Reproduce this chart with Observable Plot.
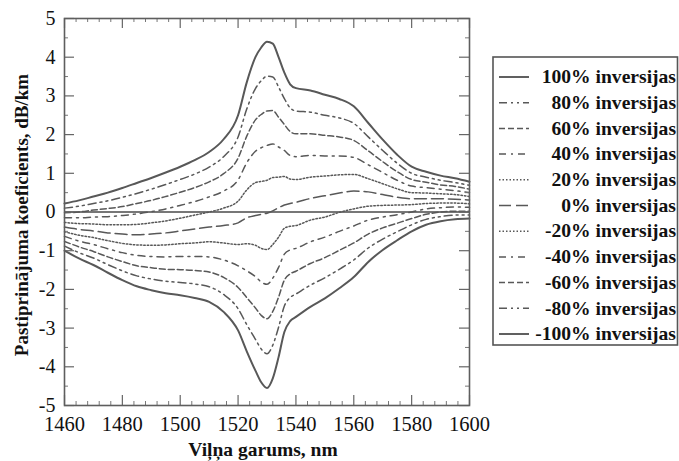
<!DOCTYPE html>
<html>
<head>
<meta charset="utf-8">
<script src="https://cdn.jsdelivr.net/npm/d3@7"></script>
<script src="https://cdn.jsdelivr.net/npm/@observablehq/plot@0.6"></script>
<style>
  html, body { margin: 0; padding: 0; background: #fff; }
  #chart svg { display: block; }
</style>
</head>
<body>
<div id="chart"></div>
<script>
const wavelength = [1460,1465,1470,1475,1480,1485,1490,1495,1500,1505,1510,1515,1520,1523,1526,1528,1530,1532,1534,1536,1538,1540,1545,1550,1555,1560,1565,1570,1575,1580,1585,1590,1595,1600];

const inv100  = [0.22,0.30,0.40,0.50,0.62,0.75,0.88,1.02,1.17,1.34,1.55,1.88,2.50,3.35,4.00,4.25,4.40,4.35,4.00,3.60,3.30,3.20,3.14,3.03,2.92,2.73,2.30,1.87,1.48,1.17,1.04,0.94,0.87,0.78];
const inv80   = [0.10,0.15,0.22,0.29,0.38,0.48,0.59,0.71,0.84,0.98,1.16,1.43,1.94,2.66,3.19,3.39,3.51,3.49,3.23,2.93,2.69,2.61,2.58,2.50,2.43,2.29,1.94,1.59,1.26,1.00,0.90,0.82,0.76,0.69];
const inv60   = [-0.02,0.00,0.05,0.09,0.14,0.22,0.30,0.40,0.51,0.63,0.78,0.99,1.39,1.96,2.38,2.52,2.61,2.62,2.45,2.26,2.08,2.02,2.02,1.98,1.94,1.85,1.58,1.30,1.04,0.84,0.77,0.70,0.66,0.59];
const inv40   = [-0.15,-0.15,-0.13,-0.12,-0.09,-0.05,0.01,0.08,0.17,0.27,0.39,0.54,0.83,1.27,1.57,1.66,1.72,1.76,1.68,1.59,1.46,1.43,1.46,1.45,1.45,1.41,1.22,1.02,0.82,0.67,0.63,0.59,0.55,0.50];
const inv20   = [-0.27,-0.30,-0.31,-0.33,-0.33,-0.32,-0.28,-0.23,-0.16,-0.08,0.00,0.10,0.28,0.57,0.76,0.79,0.82,0.89,0.90,0.92,0.85,0.84,0.90,0.93,0.96,0.97,0.86,0.73,0.60,0.50,0.49,0.47,0.45,0.40];
const inv0    = [-0.39,-0.45,-0.49,-0.54,-0.57,-0.59,-0.57,-0.54,-0.49,-0.44,-0.39,-0.35,-0.28,-0.15,-0.09,-0.06,-0.03,0.03,0.11,0.18,0.22,0.25,0.35,0.42,0.49,0.54,0.52,0.45,0.38,0.34,0.34,0.34,0.33,0.31];
const invM20  = [-0.51,-0.60,-0.66,-0.74,-0.81,-0.85,-0.86,-0.85,-0.82,-0.80,-0.77,-0.80,-0.84,-0.82,-0.86,-0.94,-0.97,-0.84,-0.65,-0.42,-0.37,-0.35,-0.21,-0.13,-0.01,0.08,0.15,0.17,0.18,0.19,0.22,0.23,0.23,0.21];
const invM40  = [-0.63,-0.75,-0.84,-0.95,-1.05,-1.12,-1.15,-1.16,-1.15,-1.15,-1.16,-1.24,-1.39,-1.52,-1.67,-1.81,-1.87,-1.71,-1.43,-1.09,-0.98,-0.94,-0.77,-0.65,-0.50,-0.36,-0.21,-0.13,-0.07,0.00,0.08,0.11,0.13,0.12];
const invM60  = [-0.76,-0.90,-1.02,-1.16,-1.28,-1.39,-1.44,-1.48,-1.49,-1.51,-1.55,-1.69,-1.95,-2.21,-2.48,-2.67,-2.76,-2.57,-2.20,-1.76,-1.60,-1.53,-1.33,-1.18,-0.99,-0.80,-0.57,-0.41,-0.29,-0.17,-0.06,0.00,0.02,0.02];
const invM80  = [-0.88,-1.05,-1.19,-1.36,-1.52,-1.65,-1.73,-1.79,-1.82,-1.86,-1.93,-2.13,-2.50,-2.91,-3.29,-3.54,-3.66,-3.44,-2.98,-2.43,-2.21,-2.12,-1.89,-1.70,-1.48,-1.24,-0.93,-0.70,-0.51,-0.33,-0.19,-0.12,-0.08,-0.08];
const invM100 = [-1.00,-1.20,-1.37,-1.57,-1.76,-1.92,-2.02,-2.10,-2.15,-2.22,-2.32,-2.58,-3.06,-3.60,-4.10,-4.40,-4.55,-4.30,-3.75,-3.10,-2.82,-2.71,-2.45,-2.23,-1.97,-1.68,-1.29,-0.98,-0.73,-0.50,-0.33,-0.24,-0.19,-0.17];

const seriesNames = ["100% inversijas","80% inversijas","60% inversijas","40% inversijas","20% inversijas","0% inversijas","-20% inversijas","-40% inversijas","-60% inversijas","-80% inversijas","-100% inversijas"];
const seriesValues = [inv100, inv80, inv60, inv40, inv20, inv0, invM20, invM40, invM60, invM80, invM100];

const xTicks = [1460,1480,1500,1520,1540,1560,1580,1600];
const xMinorTicks = d3.range(1460, 1601, 4).filter(v => !xTicks.includes(v));
const yTicks = [-5,-4,-3,-2,-1,0,1,2,3,4,5];
const yMinorTicks = [-4.5,-3.5,-2.5,-1.5,-0.5,0.5,1.5,2.5,3.5,4.5];

const xLabel = "Viļņa garums, nm";
const yLabel = "Pastiprinājuma koeficients, dB/km";

// styles
const dashStyles = [null, "8,4,2,4,2,4", "6,3", "7,5,2,5", "1.5,2", "12,5", "1.5,2", "7,5,2,5", "6,3", "8,4,2,4,2,4", null];
const lineColor = "#585858";
const textColor = "#111";
const serif = "'Liberation Serif', 'Times New Roman', serif";

const rows = [];
seriesNames.forEach((name, i) => {
  wavelength.forEach((w, j) => rows.push({series: name, wl: w, value: seriesValues[i][j]}));
});

const W = 679, H = 461;
const mL = 64, mR = 210, mT = 18, mB = 56;
const frameW = W - mL - mR, frameH = H - mT - mB;

const lineMarks = seriesNames.map((name, i) =>
  Plot.line(rows.filter(r => r.series === name), {
    x: "wl", y: "value",
    stroke: lineColor,
    strokeWidth: (i === 0 || i === 10) ? 2 : 1.5,
    strokeDasharray: dashStyles[i] || undefined,
    curve: "monotone-x"
  })
);

const chart = Plot.plot({
  width: W, height: H,
  marginLeft: mL, marginRight: mR, marginTop: mT, marginBottom: mB,
  style: {fontFamily: serif, color: textColor, background: "#fff"},
  x: {domain: [1460, 1600]},
  y: {domain: [-5, 5]},
  marks: [
    Plot.ruleY([0], {stroke: "#4a4a4a", strokeWidth: 1.6}),
    ...lineMarks,
    // inward ticks on all four sides
    Plot.tickX(xTicks, {x: d => d, insetTop: frameH - 10, stroke: "#666", strokeWidth: 1.2}),
    Plot.tickX(xTicks, {x: d => d, insetBottom: frameH - 10, stroke: "#666", strokeWidth: 1.2}),
    Plot.tickX(xMinorTicks, {x: d => d, insetTop: frameH - 4, stroke: "#777", strokeWidth: 1}),
    Plot.tickX(xMinorTicks, {x: d => d, insetBottom: frameH - 4, stroke: "#777", strokeWidth: 1}),
    Plot.tickY(yTicks, {y: d => d, insetRight: frameW - 10, stroke: "#666", strokeWidth: 1.2}),
    Plot.tickY(yTicks, {y: d => d, insetLeft: frameW - 10, stroke: "#666", strokeWidth: 1.2}),
    Plot.tickY(yMinorTicks, {y: d => d, insetRight: frameW - 4, stroke: "#777", strokeWidth: 1}),
    Plot.tickY(yMinorTicks, {y: d => d, insetLeft: frameW - 4, stroke: "#777", strokeWidth: 1}),
    Plot.frame({stroke: "#5e5e5e", strokeWidth: 1.6}),
    Plot.axisX({anchor: "bottom", ticks: xTicks, tickSize: 0, tickPadding: 11, fontSize: 20.5, tickFormat: d => String(d), label: null, fill: textColor}),
    Plot.axisY({anchor: "left", ticks: yTicks, tickSize: 0, tickPadding: 9, fontSize: 20, tickFormat: d => String(d), label: null, fill: textColor}),
    Plot.text([xLabel], {text: d => d, frameAnchor: "bottom", dx: -4, dy: 44, textAnchor: "middle", lineAnchor: "middle", fontSize: 19.5, fontWeight: "bold", fill: textColor}),
    Plot.text([yLabel], {text: d => d, frameAnchor: "left", rotate: -90, dx: -43, dy: 3, textAnchor: "middle", lineAnchor: "middle", fontSize: 19, fontWeight: "bold", fill: textColor})
  ]
});

document.getElementById("chart").appendChild(chart);

// Legend box drawn into the same SVG
const svg = d3.select(chart);
const lg = svg.append("g").attr("class", "legend");
lg.append("rect")
  .attr("x", 493).attr("y", 57).attr("width", 184.5).attr("height", 288)
  .attr("fill", "#fff").attr("stroke", "#555").attr("stroke-width", 1.6);
seriesNames.forEach((name, i) => {
  const y = 77 + i * 25.7;
  lg.append("line")
    .attr("x1", 499).attr("x2", 529).attr("y1", y).attr("y2", y)
    .attr("stroke", lineColor)
    .attr("stroke-width", (i === 0 || i === 10) ? 1.9 : 1.5)
    .attr("stroke-dasharray", dashStyles[i]);
  lg.append("text")
    .attr("transform", `translate(676,${y}) scale(1.1,1)`)
    .attr("text-anchor", "end")
    .attr("dy", "0.35em")
    .attr("font-family", serif)
    .attr("font-weight", "bold")
    .attr("font-size", 17.8)
    .attr("fill", textColor)
    .text(name);
});
</script>
</body>
</html>
